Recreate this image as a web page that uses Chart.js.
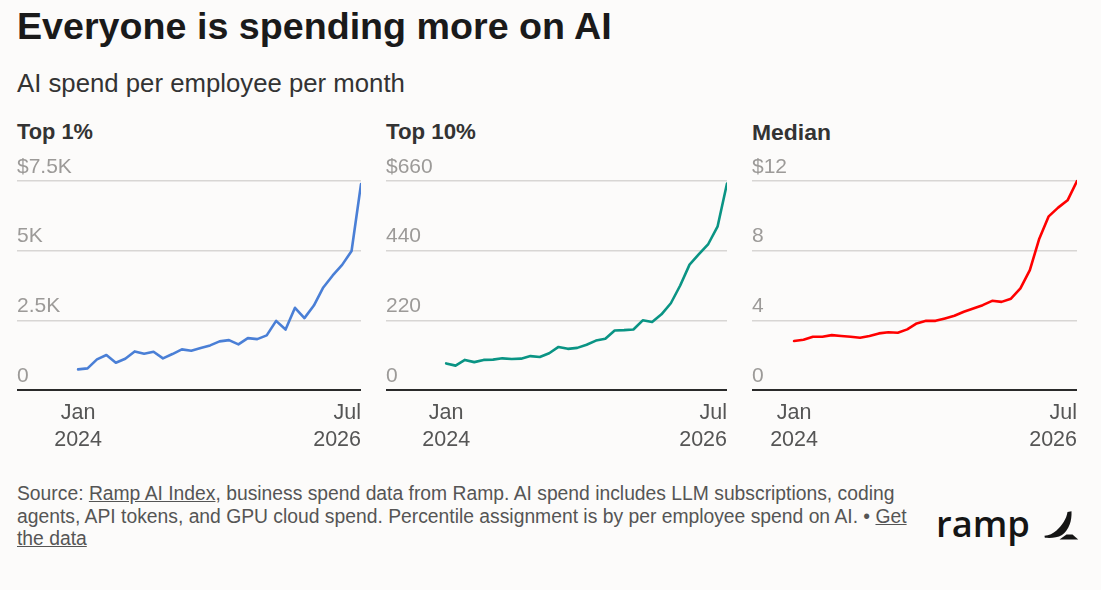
<!DOCTYPE html>
<html><head><meta charset="utf-8">
<script src="https://cdn.jsdelivr.net/npm/chart.js@4"></script>
<style>
html,body{margin:0;padding:0;background:#fcfbfa;}
body{width:1101px;height:590px;position:relative;overflow:hidden;font-family:"Liberation Sans",Arial,sans-serif;}
.abs{position:absolute;white-space:nowrap;}
#title{left:17px;top:3px;font-size:37px;font-weight:700;color:#1a1a1a;line-height:46px;}
#subtitle{left:17px;top:68px;font-size:22px;color:#333;line-height:30px;}
.ptitle{top:119px;font-size:21px;font-weight:700;color:#333;line-height:26px;}
.cv{position:absolute;top:151px;}
#footer{left:17px;top:483px;font-size:17px;color:#555;line-height:22.5px;}
#footer a{color:#555;text-decoration:underline;}
#logo{left:936px;top:505px;font-family:"Open Sans",sans-serif;font-size:37px;font-weight:600;color:#151515;line-height:1;}
#mark{position:absolute;left:1038px;top:502px;}
</style>
</head><body>
<div id="title" class="abs" data-w="595">Everyone is spending more on AI</div>
<div id="subtitle" class="abs" data-w="388">AI spend per employee per month</div>
<div class="abs ptitle" style="left:17px" data-w="76">Top 1%</div>
<div class="abs ptitle" style="left:386px" data-w="90">Top 10%</div>
<div class="abs ptitle" style="left:752px" data-w="79">Median</div>
<canvas id="c1" class="cv" style="left:17px" width="344" height="301"></canvas>
<canvas id="c2" class="cv" style="left:386px" width="341" height="301"></canvas>
<canvas id="c3" class="cv" style="left:752px" width="325" height="301"></canvas>
<div id="footer" class="abs">
<div id="fl1">Source: <a>Ramp AI Index</a>, business spend data from Ramp. AI spend includes LLM subscriptions, coding</div>
<div>agents, API tokens, and GPU cloud spend. Percentile assignment is by per employee spend on AI. &#8226; <a>Get</a></div>
<div><a>the data</a></div>
</div>
<div id="logo" class="abs" data-w="94">ramp</div>
<svg id="mark" width="50" height="50" viewBox="0 0 50 50">
<path d="M29.5 10 L33.5 9.3 C34 19 31 28 24 33 C19 36 13 36.2 6.8 35.8 L6.5 33.8 C11 33.5 15 31.5 18.5 28.5 C24 23.5 28.5 17 29.5 10 Z" fill="#151515"/>
<path d="M21.5 37.6 L28.5 32.6 L34.5 32.6 L40.2 37.6 Z" fill="#151515"/>
</svg>
<script>
// ---- data ----
const months = ['2024-01','2024-02','2024-03','2024-04','2024-05','2024-06','2024-07','2024-08','2024-09','2024-10','2024-11','2024-12',
  '2025-01','2025-02','2025-03','2025-04','2025-05','2025-06','2025-07','2025-08','2025-09','2025-10','2025-11','2025-12',
  '2026-01','2026-02','2026-03','2026-04','2026-05','2026-06','2026-07'];
const top1Values = [740, 776, 1099, 1254, 979, 1123, 1385, 1302, 1373, 1135, 1290, 1457, 1409, 1505, 1600, 1744,
  1791, 1636, 1863, 1827, 1959, 2480, 2170, 2950, 2580, 3030, 3680, 4110, 4490, 4990, 7390];
const top10Values = [84, 77, 95, 88, 95, 96, 100, 98, 99, 107, 104, 116, 136, 130, 133, 143,
  156, 162, 188, 189, 191, 220, 215, 239, 274, 330, 396, 429, 461, 517, 652];
const medianValues = [2.81, 2.89, 3.06, 3.06, 3.15, 3.10, 3.06, 3.00, 3.10, 3.25, 3.32, 3.29, 3.48, 3.82, 3.97, 3.97,
  4.11, 4.26, 4.49, 4.68, 4.87, 5.12, 5.06, 5.24, 5.83, 6.88, 8.69, 9.97, 10.47, 10.89, 12.0];
const xTickIndex = [0, 30];
const xTickLabels = [['Jan', '2024'], ['Jul', '2026']];
const top1YLabels = ['0', '2.5K', '5K', '$7.5K'];
const top10YLabels = ['0', '220', '440', '$660'];
const medianYLabels = ['0', '4', '8', '$12'];

// fit text widths
document.querySelectorAll('[data-w]').forEach(el => {
  const w = el.getBoundingClientRect().width;
  const fs = parseFloat(getComputedStyle(el).fontSize);
  el.style.fontSize = (fs * (+el.dataset.w) / w) + 'px';
});
(function(){
  const f = document.getElementById('footer');
  const l = document.getElementById('fl1');
  const span = document.createElement('span'); span.innerHTML = l.innerHTML; l.innerHTML=''; l.appendChild(span);
  const sw = span.getBoundingClientRect().width;
  const fs = parseFloat(getComputedStyle(f).fontSize);
  f.style.fontSize = (fs * 878 / sw) + 'px';
})();

function makeChart(id, values, color, yMax, yStep, yLabels, xMin) {
  new Chart(document.getElementById(id), {
    type: 'line',
    data: {
      datasets: [{
        data: values.map((v, i) => ({x: i, y: v, m: months[i]})),
        borderColor: color, borderWidth: 2.6, pointRadius: 0,
        tension: 0, fill: false, clip: 6,
        borderJoinStyle: 'round', borderCapStyle: 'round'
      }]
    },
    options: {
      responsive: false, animation: false,
      layout: {autoPadding: false, padding: {top: 30, left: 0, right: 0, bottom: 0}},
      plugins: {legend: {display: false}, tooltip: {enabled: false}},
      scales: {
        x: {
          type: 'linear', min: xMin, max: months.length - 1,
          grid: {display: false, drawTicks: false},
          border: {display: true, color: '#2a2a2a', width: 2},
          afterBuildTicks: ax => { ax.ticks = [{value: xMin}].concat(xTickIndex.map(v => ({value: v}))); },
          afterFit: ax => { ax.paddingLeft = 0; ax.paddingRight = 0; ax.height = 62; },
          ticks: {
            autoSkip: false, maxRotation: 0, align: 'inner', padding: 9,
            color: '#555', font: {family: '"Liberation Sans", Arial, sans-serif', size: 21.5, lineHeight: 1.27},
            callback: (v) => { const k = xTickIndex.indexOf(v); return k < 0 ? '' : xTickLabels[k]; }
          }
        },
        y: {
          min: 0, max: yMax,
          grid: {color: '#d8d6d4', lineWidth: 1.5, drawTicks: false},
          border: {display: false},
          afterBuildTicks: ax => { const t = []; for (let v = 0; v <= yMax + 1e-9; v += yStep) t.push({value: v}); ax.ticks = t; },
          afterFit: ax => { ax.width = 0; ax.paddingTop = 0; ax.paddingBottom = 0; },
          ticks: {
            mirror: true, padding: 0, labelOffset: -14,
            color: '#9c9a98', font: {family: '"Liberation Sans", Arial, sans-serif', size: 21},
            callback: (v, i) => yLabels[i]
          }
        }
      }
    }
  });
}
makeChart('c1', top1Values, '#4a7fd6', 7500, 2500, top1YLabels, -6.48);
makeChart('c2', top10Values, '#0a9484', 660, 220, top10YLabels, -6.43);
makeChart('c3', medianValues, '#ff0000', 12, 4, medianYLabels, -4.46);
</script>
</body></html>
